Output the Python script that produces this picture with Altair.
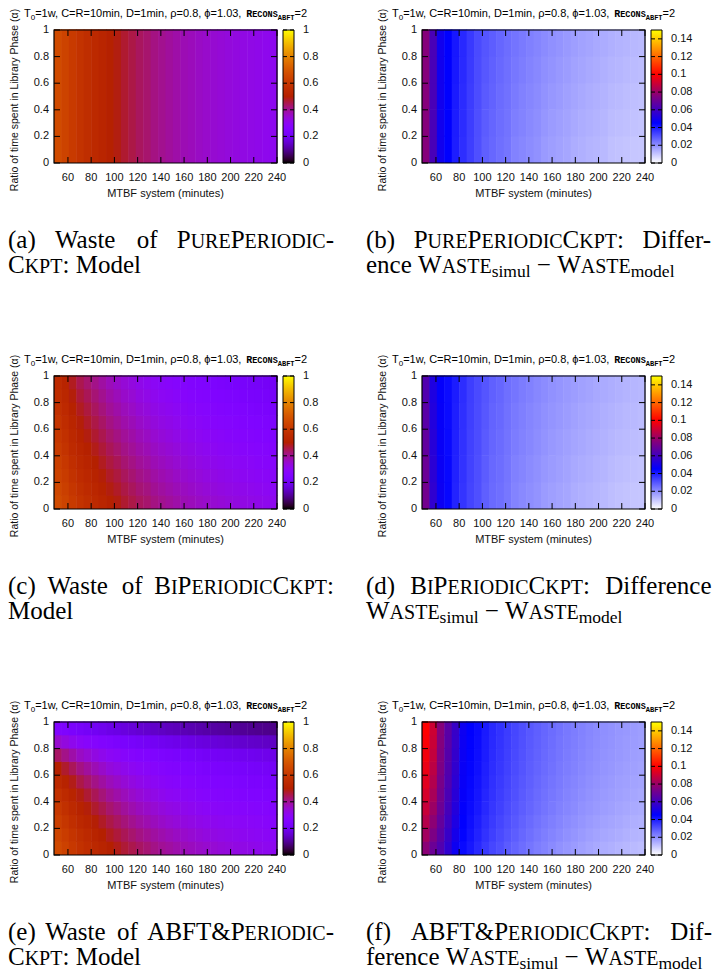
import math
import altair as alt
import pandas as pd

# ---------------------------------------------------------------- data
mtbf_edges = [48.0, 54.4, 60.8, 67.2, 73.6, 80.0, 86.4, 92.8, 99.2, 105.6, 112.0,
              118.4, 124.8, 131.2, 137.6, 144.0, 150.4, 156.8, 163.2, 169.6, 176.0,
              182.4, 188.8, 195.2, 201.6, 208.0, 214.4, 220.8, 227.2, 233.6, 240.0]
alpha_edges_1 = [0.0, 1.0]
alpha_edges_5 = [0.0, 0.2, 0.4, 0.6, 0.8, 1.0]
alpha_edges_10 = [0.0, 0.1, 0.2, 0.3, 0.4, 0.5, 0.6, 0.7, 0.8, 0.9, 1.0]

mtbf_ticks = [60, 80, 100, 120, 140, 160, 180, 200, 220, 240]
alpha_ticks = [0, 0.2, 0.4, 0.6, 0.8, 1]
waste_ticks = [0, 0.2, 0.4, 0.6, 0.8, 1]
diff_ticks = [0, 0.02, 0.04, 0.06, 0.08, 0.1, 0.12, 0.14]

x_title = "MTBF system (minutes)"
y_title = "Ratio of time spent in Library Phase (α)"

# (a) PurePeriodicCkpt model waste, one value per MTBF column (same for every alpha)
pure_model = [0.665, 0.64, 0.61, 0.585, 0.565, 0.545, 0.525, 0.505, 0.49, 0.47,
              0.455, 0.44, 0.43, 0.415, 0.405, 0.395, 0.385, 0.375, 0.368, 0.36,
              0.353, 0.347, 0.34, 0.335, 0.33, 0.325, 0.32, 0.315, 0.31, 0.306]

# (b) PurePeriodicCkpt simul - model, per MTBF column, 5 alpha bins (bottom -> top)
pure_diff_cols = [
    [0.076, 0.076, 0.076, 0.076, 0.076], [0.062, 0.062, 0.062, 0.062, 0.062],
    [0.049, 0.049, 0.049, 0.049, 0.049], [0.045, 0.045, 0.045, 0.045, 0.045],
    [0.0398, 0.0401, 0.0404, 0.0407, 0.041], [0.0369, 0.0372, 0.0375, 0.0377, 0.038],
    [0.034, 0.0342, 0.0345, 0.0347, 0.035], [0.031, 0.0313, 0.0315, 0.0318, 0.032],
    [0.0282, 0.0287, 0.0291, 0.0296, 0.03], [0.0268, 0.0272, 0.0277, 0.0281, 0.0285],
    [0.0254, 0.0258, 0.0262, 0.0266, 0.027], [0.0243, 0.0247, 0.025, 0.0254, 0.0258],
    [0.0221, 0.0228, 0.0234, 0.024, 0.0246], [0.0212, 0.0218, 0.0223, 0.0229, 0.0235],
    [0.0203, 0.0208, 0.0214, 0.0219, 0.0225], [0.0194, 0.0199, 0.0204, 0.021, 0.0215],
    [0.0178, 0.0185, 0.0192, 0.0198, 0.0205], [0.0171, 0.0177, 0.0183, 0.019, 0.0196],
    [0.0164, 0.017, 0.0176, 0.0182, 0.0188], [0.0157, 0.0163, 0.0168, 0.0174, 0.018],
    [0.0144, 0.0151, 0.0158, 0.0165, 0.0172], [0.0139, 0.0145, 0.0152, 0.0158, 0.0165],
    [0.0133, 0.0139, 0.0145, 0.0152, 0.0158], [0.0128, 0.0134, 0.014, 0.0146, 0.0152],
    [0.0123, 0.0129, 0.0134, 0.014, 0.0146], [0.0112, 0.0119, 0.0126, 0.0133, 0.014],
    [0.0108, 0.0115, 0.0122, 0.0128, 0.0135], [0.0104, 0.0111, 0.0117, 0.0124, 0.013],
    [0.0101, 0.0107, 0.0113, 0.012, 0.0126], [0.0098, 0.0104, 0.011, 0.0116, 0.0122],
]

# (c) BiPeriodicCkpt model waste, per MTBF column, 10 alpha bins (bottom -> top)
bi_model_cols = [
    [0.665, 0.652, 0.639, 0.627, 0.614, 0.601, 0.588, 0.576, 0.563, 0.55],
    [0.64, 0.627, 0.613, 0.6, 0.587, 0.573, 0.56, 0.547, 0.533, 0.52],
    [0.61, 0.596, 0.581, 0.567, 0.552, 0.538, 0.523, 0.509, 0.494, 0.48],
    [0.585, 0.57, 0.555, 0.54, 0.525, 0.51, 0.495, 0.48, 0.465, 0.45],
    [0.565, 0.55, 0.535, 0.52, 0.505, 0.49, 0.475, 0.46, 0.445, 0.43],
    [0.545, 0.53, 0.515, 0.5, 0.485, 0.47, 0.455, 0.44, 0.425, 0.41],
    [0.525, 0.51, 0.495, 0.48, 0.465, 0.45, 0.435, 0.42, 0.405, 0.39],
    [0.505, 0.49, 0.475, 0.46, 0.445, 0.43, 0.415, 0.4, 0.385, 0.37],
    [0.49, 0.475, 0.46, 0.445, 0.43, 0.415, 0.4, 0.385, 0.37, 0.355],
    [0.47, 0.456, 0.441, 0.427, 0.412, 0.398, 0.383, 0.369, 0.354, 0.34],
    [0.455, 0.441, 0.427, 0.413, 0.399, 0.386, 0.372, 0.358, 0.344, 0.33],
    [0.44, 0.426, 0.412, 0.398, 0.384, 0.371, 0.357, 0.343, 0.329, 0.315],
    [0.43, 0.416, 0.402, 0.388, 0.374, 0.361, 0.347, 0.333, 0.319, 0.305],
    [0.415, 0.402, 0.388, 0.375, 0.362, 0.348, 0.335, 0.322, 0.308, 0.295],
    [0.405, 0.392, 0.378, 0.365, 0.352, 0.338, 0.325, 0.312, 0.298, 0.285],
    [0.395, 0.382, 0.369, 0.356, 0.343, 0.33, 0.317, 0.304, 0.291, 0.278],
    [0.385, 0.372, 0.359, 0.347, 0.334, 0.321, 0.308, 0.296, 0.283, 0.27],
    [0.375, 0.363, 0.35, 0.338, 0.325, 0.313, 0.3, 0.288, 0.275, 0.263],
    [0.368, 0.356, 0.343, 0.331, 0.318, 0.306, 0.293, 0.281, 0.268, 0.256],
    [0.36, 0.348, 0.336, 0.323, 0.311, 0.299, 0.287, 0.274, 0.262, 0.25],
    [0.353, 0.341, 0.329, 0.317, 0.305, 0.293, 0.281, 0.269, 0.257, 0.245],
    [0.347, 0.335, 0.323, 0.311, 0.299, 0.288, 0.276, 0.264, 0.252, 0.24],
    [0.34, 0.328, 0.317, 0.305, 0.293, 0.282, 0.27, 0.258, 0.247, 0.235],
    [0.335, 0.323, 0.312, 0.3, 0.288, 0.277, 0.265, 0.253, 0.242, 0.23],
    [0.33, 0.318, 0.307, 0.295, 0.284, 0.272, 0.261, 0.249, 0.238, 0.226],
    [0.325, 0.314, 0.302, 0.291, 0.279, 0.268, 0.256, 0.245, 0.233, 0.222],
    [0.32, 0.309, 0.297, 0.286, 0.275, 0.263, 0.252, 0.241, 0.229, 0.218],
    [0.315, 0.304, 0.293, 0.281, 0.27, 0.259, 0.248, 0.236, 0.225, 0.214],
    [0.31, 0.299, 0.288, 0.277, 0.266, 0.254, 0.243, 0.232, 0.221, 0.21],
    [0.306, 0.295, 0.284, 0.273, 0.262, 0.251, 0.24, 0.229, 0.218, 0.207],
]

# (d) BiPeriodicCkpt simul - model, per MTBF column, 5 alpha bins (bottom -> top)
bi_diff_cols = [
    [0.0717, 0.0698, 0.0678, 0.0659, 0.064], [0.0562, 0.0551, 0.0541, 0.053, 0.052],
    [0.0478, 0.0474, 0.0469, 0.0465, 0.046], [0.0439, 0.0437, 0.0435, 0.0432, 0.043],
    [0.0388, 0.0391, 0.0394, 0.0397, 0.04], [0.0359, 0.0362, 0.0364, 0.0367, 0.037],
    [0.033, 0.0333, 0.0335, 0.0338, 0.034], [0.031, 0.0313, 0.0315, 0.0318, 0.032],
    [0.0282, 0.0287, 0.0291, 0.0296, 0.03], [0.0263, 0.0267, 0.0272, 0.0276, 0.028],
    [0.0254, 0.0258, 0.0262, 0.0266, 0.027], [0.024, 0.0244, 0.0247, 0.0251, 0.0255],
    [0.0219, 0.0225, 0.0231, 0.0237, 0.0243], [0.0209, 0.0215, 0.022, 0.0226, 0.0232],
    [0.02, 0.0205, 0.0211, 0.0216, 0.0222], [0.0191, 0.0196, 0.0201, 0.0207, 0.0212],
    [0.0177, 0.0183, 0.019, 0.0196, 0.0203], [0.017, 0.0176, 0.0182, 0.0189, 0.0195],
    [0.0163, 0.0169, 0.0175, 0.0181, 0.0187], [0.0157, 0.0163, 0.0168, 0.0174, 0.018],
    [0.0145, 0.0152, 0.0159, 0.0166, 0.0173], [0.0139, 0.0146, 0.0153, 0.0159, 0.0166],
    [0.0134, 0.0141, 0.0147, 0.0154, 0.016], [0.0129, 0.0135, 0.0142, 0.0148, 0.0154],
    [0.0124, 0.013, 0.0136, 0.0142, 0.0148], [0.0114, 0.0121, 0.0129, 0.0136, 0.0143],
    [0.011, 0.0117, 0.0124, 0.0131, 0.0138], [0.0106, 0.0113, 0.012, 0.0126, 0.0133],
    [0.0103, 0.011, 0.0116, 0.0123, 0.0129], [0.01, 0.0106, 0.0113, 0.0119, 0.0125],
]

# (e) ABFT&PeriodicCkpt model waste, per alpha bin (bottom -> top), 30 MTBF columns each
abft_model_rows = [
    [0.66, 0.635, 0.605, 0.58, 0.56, 0.54, 0.52, 0.5, 0.485, 0.466, 0.451, 0.437, 0.426, 0.412, 0.401,
     0.392, 0.382, 0.372, 0.365, 0.357, 0.35, 0.344, 0.337, 0.332, 0.327, 0.322, 0.317, 0.312, 0.307, 0.303],
    [0.645, 0.618, 0.59, 0.565, 0.543, 0.522, 0.5, 0.48, 0.463, 0.445, 0.43, 0.415, 0.403, 0.392, 0.381,
     0.37, 0.361, 0.353, 0.345, 0.337, 0.33, 0.325, 0.319, 0.314, 0.309, 0.305, 0.301, 0.297, 0.293, 0.29],
    [0.625, 0.597, 0.568, 0.54, 0.518, 0.497, 0.476, 0.455, 0.438, 0.421, 0.405, 0.39, 0.378, 0.367, 0.356,
     0.345, 0.337, 0.33, 0.323, 0.316, 0.31, 0.306, 0.302, 0.298, 0.294, 0.29, 0.286, 0.282, 0.278, 0.275],
    [0.605, 0.575, 0.545, 0.515, 0.494, 0.472, 0.451, 0.43, 0.413, 0.396, 0.38, 0.365, 0.355, 0.345, 0.335,
     0.325, 0.318, 0.311, 0.304, 0.297, 0.29, 0.287, 0.284, 0.281, 0.278, 0.275, 0.272, 0.268, 0.265, 0.262],
    [0.58, 0.55, 0.52, 0.49, 0.467, 0.445, 0.422, 0.4, 0.384, 0.369, 0.354, 0.34, 0.33, 0.32, 0.31,
     0.3, 0.294, 0.288, 0.282, 0.276, 0.27, 0.267, 0.264, 0.261, 0.258, 0.255, 0.252, 0.25, 0.247, 0.245],
    [0.545, 0.515, 0.485, 0.455, 0.433, 0.412, 0.391, 0.37, 0.356, 0.342, 0.328, 0.315, 0.306, 0.297, 0.288,
     0.28, 0.275, 0.27, 0.265, 0.26, 0.255, 0.252, 0.249, 0.246, 0.243, 0.24, 0.237, 0.235, 0.232, 0.23],
    [0.5, 0.472, 0.443, 0.415, 0.395, 0.375, 0.355, 0.335, 0.323, 0.312, 0.301, 0.29, 0.282, 0.275, 0.267,
     0.26, 0.255, 0.251, 0.246, 0.242, 0.237, 0.234, 0.231, 0.228, 0.225, 0.222, 0.219, 0.216, 0.213, 0.21],
    [0.435, 0.41, 0.385, 0.36, 0.344, 0.327, 0.311, 0.295, 0.286, 0.277, 0.268, 0.26, 0.254, 0.247, 0.241,
     0.235, 0.23, 0.226, 0.221, 0.217, 0.212, 0.209, 0.206, 0.202, 0.199, 0.196, 0.193, 0.19, 0.188, 0.185],
    [0.35, 0.33, 0.31, 0.29, 0.279, 0.267, 0.256, 0.245, 0.237, 0.23, 0.222, 0.215, 0.209, 0.202, 0.196,
     0.19, 0.186, 0.181, 0.177, 0.172, 0.168, 0.164, 0.161, 0.157, 0.154, 0.15, 0.147, 0.145, 0.142, 0.14],
    [0.256, 0.244, 0.232, 0.22, 0.211, 0.201, 0.192, 0.183, 0.176, 0.169, 0.162, 0.155, 0.15, 0.145, 0.14,
     0.135, 0.131, 0.127, 0.123, 0.119, 0.115, 0.112, 0.109, 0.106, 0.103, 0.1, 0.098, 0.095, 0.093, 0.09],
]

# (f) ABFT&PeriodicCkpt simul - model, per MTBF column, 10 alpha bins (bottom -> top)
abft_diff_cols = [
    [0.077, 0.0816, 0.0855, 0.089, 0.0917, 0.094, 0.0961, 0.0977, 0.0991, 0.1],
    [0.07, 0.074, 0.0774, 0.0804, 0.0828, 0.0848, 0.0866, 0.088, 0.0892, 0.09],
    [0.064, 0.0664, 0.0684, 0.0702, 0.0717, 0.0729, 0.074, 0.0748, 0.0755, 0.076],
    [0.056, 0.058, 0.0597, 0.0612, 0.0624, 0.0634, 0.0643, 0.065, 0.0656, 0.066],
    [0.048, 0.05, 0.0517, 0.0532, 0.0544, 0.0554, 0.0563, 0.057, 0.0576, 0.058],
    [0.0435, 0.0444, 0.0452, 0.0458, 0.0464, 0.0468, 0.0472, 0.0476, 0.0478, 0.048],
    [0.041, 0.0418, 0.0425, 0.0431, 0.0436, 0.044, 0.0443, 0.0446, 0.0448, 0.045],
    [0.038, 0.039, 0.0399, 0.0407, 0.0413, 0.0418, 0.0423, 0.0427, 0.043, 0.0432],
    [0.035, 0.0361, 0.037, 0.0379, 0.0385, 0.0391, 0.0396, 0.04, 0.0403, 0.0405],
    [0.0327, 0.0338, 0.0347, 0.0355, 0.0361, 0.0366, 0.0371, 0.0375, 0.0378, 0.038],
    [0.031, 0.032, 0.0329, 0.0337, 0.0343, 0.0348, 0.0353, 0.0357, 0.036, 0.0362],
    [0.029, 0.0301, 0.031, 0.0318, 0.0325, 0.033, 0.0335, 0.0339, 0.0342, 0.0344],
    [0.0274, 0.0285, 0.0294, 0.0302, 0.0308, 0.0313, 0.0318, 0.0322, 0.0325, 0.0327],
    [0.0258, 0.0268, 0.0277, 0.0285, 0.0291, 0.0296, 0.0301, 0.0305, 0.0308, 0.031],
    [0.0244, 0.0254, 0.0263, 0.0271, 0.0277, 0.0282, 0.0286, 0.029, 0.0293, 0.0295],
    [0.023, 0.024, 0.0249, 0.0257, 0.0263, 0.0268, 0.0273, 0.0277, 0.028, 0.0282],
    [0.0218, 0.0228, 0.0237, 0.0245, 0.0251, 0.0256, 0.0261, 0.0265, 0.0268, 0.027],
    [0.0206, 0.0217, 0.0226, 0.0234, 0.024, 0.0245, 0.025, 0.0254, 0.0257, 0.0259],
    [0.0195, 0.0206, 0.0215, 0.0223, 0.0229, 0.0234, 0.0239, 0.0243, 0.0246, 0.0248],
    [0.0185, 0.0196, 0.0205, 0.0213, 0.0219, 0.0224, 0.0229, 0.0233, 0.0236, 0.0238],
    [0.0176, 0.0187, 0.0196, 0.0204, 0.021, 0.0215, 0.022, 0.0224, 0.0227, 0.0229],
    [0.0167, 0.0178, 0.0187, 0.0195, 0.0201, 0.0206, 0.0211, 0.0215, 0.0218, 0.022],
    [0.0159, 0.017, 0.0179, 0.0187, 0.0193, 0.0198, 0.0203, 0.0207, 0.021, 0.0212],
    [0.0152, 0.0163, 0.0172, 0.018, 0.0186, 0.0191, 0.0196, 0.02, 0.0203, 0.0205],
    [0.0145, 0.0156, 0.0165, 0.0173, 0.0179, 0.0184, 0.0189, 0.0193, 0.0196, 0.0198],
    [0.0139, 0.015, 0.0159, 0.0167, 0.0173, 0.0178, 0.0183, 0.0187, 0.019, 0.0192],
    [0.0133, 0.0144, 0.0153, 0.0161, 0.0167, 0.0172, 0.0177, 0.0181, 0.0184, 0.0186],
    [0.0127, 0.0138, 0.0147, 0.0155, 0.0162, 0.0167, 0.0172, 0.0176, 0.0179, 0.0181],
    [0.0122, 0.0133, 0.0142, 0.015, 0.0157, 0.0162, 0.0167, 0.0171, 0.0174, 0.0176],
    [0.0117, 0.0128, 0.0137, 0.0146, 0.0152, 0.0158, 0.0163, 0.0167, 0.017, 0.0172],
]

# ---------------------------------------------------------------- styles
W, H = 223, 133
CB_X0, CB_X1 = W + 6, W + 17
SANS, SERIF, MONO = "Liberation Sans", "Liberation Serif", "Liberation Mono"
INK = "#111111"
CAP_FS, SC_RATIO = 25.0, 0.8


def gnuplot_rgb(v):
    r, g, b = math.sqrt(v), v ** 3, max(0.0, math.sin(2 * math.pi * v))
    return "#{:02x}{:02x}{:02x}".format(*(int(round(255 * min(1.0, max(0.0, c)))) for c in (r, g, b)))


WASTE_STOPS = [i / 40 for i in range(41)]
WASTE_COLORS = [gnuplot_rgb(v) for v in WASTE_STOPS]
DIFF_STOPS = [0, 0.045, 0.075, 0.1, 0.15]
DIFF_COLORS = ["#ffffff", "#0000ff", "#800080", "#ff0000", "#ffff00"]

SANS_W = {" ": 278, ",": 278, ".": 278, "=": 584, "w": 722, "C": 722, "R": 722, "D": 722,
          "m": 833, "i": 222, "n": 556, "ρ": 577, "ϕ": 660, "T": 611}
for d in "0123456789":
    SANS_W[d] = 556
SERIF_W = {" ": 250, "(": 333, ")": 333, ":": 278, "-": 333, "&": 778, "−": 564,
           "a": 444, "b": 500, "c": 444, "d": 500, "e": 444, "f": 333, "i": 278, "l": 278,
           "m": 778, "n": 500, "o": 500, "r": 333, "s": 389, "t": 278, "u": 500,
           "A": 722, "B": 667, "C": 667, "D": 722, "E": 611, "F": 556, "I": 333, "K": 722,
           "M": 889, "O": 722, "P": 556, "R": 667, "S": 556, "T": 611, "U": 722, "W": 944}


def text_width(t, font, size):
    if font == "mono":
        return 0.6 * size * len(t)
    table = SANS_W if font == "sans" else SERIF_W
    return sum(table.get(ch, 500) for ch in t) * size / 1000.0


TITLE_SEGS = [("sans", "T", 11, 0), ("sans", "0", 8, 3),
              ("sans", "=1w, C=R=10min, D=1min, ρ=0.8, ϕ=1.03, ", 11, 0),
              ("mono", "R", 10, 0), ("mono", "ECONS", 8.5, 0), ("mono", "ABFT", 7, 3),
              ("sans", "=2", 11, 0)]


def title_frags(x0=-30, y0=-13):
    out, x = [], x0
    for font, t, size, dy in TITLE_SEGS:
        out.append(dict(t=t, x=x, y=y0 + dy, fs=size, font=font))
        x += text_width(t, font, size)
    return out


def n(t):
    return [(t, CAP_FS, 0)]


def sub(t):
    return [(t, CAP_FS * 0.7, 4)]


def sc(t):
    segs = []
    for ch in t:
        size = CAP_FS * SC_RATIO if ch.islower() else CAP_FS
        if segs and segs[-1][1] == size:
            segs[-1] = (segs[-1][0] + ch.upper(), size, 0)
        else:
            segs.append((ch.upper(), size, 0))
    return segs


def line_frags(words, x0, y, x1=None):
    widths = [sum(text_width(t, "serif", s) for t, s, _ in w) for w in words]
    if x1 is not None and len(words) > 1:
        gap = (x1 - x0 - sum(widths)) / (len(words) - 1)
    else:
        gap = SERIF_W[" "] * CAP_FS / 1000.0
    out, x = [], x0
    for w in words:
        for t, s, dy in w:
            out.append(dict(t=t, x=x, y=y + dy, fs=s, font="serif"))
            x += text_width(t, "serif", s)
        x += gap
    return out


def caption(line1, line2, left):
    x0, x1 = (-46, 280) if left else (-56, 290)
    return line_frags(line1, x0, 218, x1) + line_frags(line2, x0, 243)


WSIM = sc("Waste") + sub("simul")
WMOD = sc("Waste") + sub("model")
CAPTIONS = [
    caption([n("(a)"), n("Waste"), n("of"), sc("PurePeriodic-")], [sc("Ckpt") + n(":"), n("Model")], True),
    caption([n("(b)"), sc("PurePeriodicCkpt") + n(":"), n("Differ-")], [n("ence"), WSIM, n("−"), WMOD], False),
    caption([n("(c)"), n("Waste"), n("of"), sc("BiPeriodicCkpt") + n(":")], [n("Model")], True),
    caption([n("(d)"), sc("BiPeriodicCkpt") + n(":"), n("Difference")], [WSIM, n("−"), WMOD], False),
    caption([n("(e)"), n("Waste"), n("of"), sc("ABFT&Periodic-")], [sc("Ckpt") + n(":"), n("Model")], True),
    caption([n("(f)"), sc("ABFT&PeriodicCkpt") + n(":"), n("Dif-")], [n("ference"), WSIM, n("−"), WMOD], False),
]


def cells(cols, a_edges):
    rows = []
    for i, col in enumerate(cols):
        for k, v in enumerate(col):
            rows.append(dict(x0=mtbf_edges[i], x1=mtbf_edges[i + 1],
                             a0=a_edges[k], a1=a_edges[k + 1], v=v))
    return pd.DataFrame(rows)


def panel(df, kind, cap):
    xs = alt.Scale(domain=[48, 240], nice=False, zero=False)
    ys = alt.Scale(domain=[0, 1], nice=False, zero=False)
    if kind == "waste":
        stops, colors, vmax, cb_vals = WASTE_STOPS, WASTE_COLORS, 1.0, waste_ticks
    else:
        stops, colors, vmax, cb_vals = DIFF_STOPS, DIFF_COLORS, 0.15, diff_ticks
    cs = alt.Scale(domain=stops, range=colors, interpolate="rgb")

    # each cell is drawn a hair over its right/top neighbour, which is painted after it,
    # so that no anti-aliasing seams show between the cells
    heat = alt.Chart(df).transform_calculate(
        x1o="datum.x1 + 0.45", a1o="datum.a1 + 0.005"
    ).mark_rect(strokeWidth=0).encode(
        x=alt.X("x0:Q", scale=xs, axis=None), x2="x1o:Q",
        y=alt.Y("a0:Q", scale=ys, axis=None), y2="a1o:Q",
        color=alt.Color("v:Q", scale=cs, legend=None),
    )

    xt = pd.DataFrame({"t": mtbf_ticks})
    yt = pd.DataFrame({"t": alpha_ticks})
    one = pd.DataFrame({"k": [0]})
    rule = dict(color="black", strokeWidth=1)
    t_bottom = alt.Chart(xt).mark_rule(**rule).encode(
        x=alt.X("t:Q", scale=xs, axis=None), y=alt.value(H), y2=alt.value(H - 6))
    t_top = alt.Chart(xt).mark_rule(**rule).encode(
        x=alt.X("t:Q", scale=xs, axis=None), y=alt.value(0), y2=alt.value(6))
    t_left = alt.Chart(yt).mark_rule(**rule).encode(
        y=alt.Y("t:Q", scale=ys, axis=None), x=alt.value(0), x2=alt.value(6))
    t_right = alt.Chart(yt).mark_rule(**rule).encode(
        y=alt.Y("t:Q", scale=ys, axis=None), x=alt.value(W), x2=alt.value(W - 6))

    x_lab = alt.Chart(xt).mark_text(align="center", baseline="top", font=SANS, fontSize=11,
                                    color=INK).encode(
        x=alt.X("t:Q", scale=xs, axis=None), y=alt.value(H + 9),
        text=alt.Text("t:Q", format="~g"))
    y_lab = alt.Chart(yt).mark_text(align="right", baseline="middle", font=SANS, fontSize=11,
                                    color=INK).encode(
        y=alt.Y("t:Q", scale=ys, axis=None), x=alt.value(-5),
        text=alt.Text("t:Q", format="~g"))
    x_ttl = alt.Chart(one).mark_text(align="center", baseline="top", font=SANS, fontSize=11,
                                     color=INK, text=x_title).encode(
        x=alt.value(W / 2), y=alt.value(H + 25))
    y_ttl = alt.Chart(one).mark_text(align="center", baseline="middle", angle=270, font=SANS,
                                     fontSize=10.5, color=INK, text=y_title).encode(
        x=alt.value(-39), y=alt.value(70))

    frame = alt.Chart(one).mark_rect(fillOpacity=0, stroke="black", strokeWidth=1.2).encode(
        x=alt.XDatum(48, scale=xs, axis=None), x2=alt.X2Datum(240),
        y=alt.YDatum(0, scale=ys, axis=None), y2=alt.Y2Datum(1))

    grad = {"gradient": "linear", "x1": 0, "y1": 1, "x2": 0, "y2": 0,
            "stops": [{"offset": s / vmax, "color": c} for s, c in zip(stops, colors)]}
    cbar = alt.Chart(one).mark_rect(fill=grad, stroke="black", strokeWidth=1).encode(
        x=alt.value(CB_X0), x2=alt.value(CB_X1),
        y=alt.YDatum(0, scale=ys, axis=None), y2=alt.Y2Datum(1))

    cbase = alt.Chart(pd.DataFrame({"c": cb_vals})).transform_calculate(p=f"datum.c / {vmax}")
    dash_l = cbase.mark_rule(**rule).encode(
        y=alt.Y("p:Q", scale=ys, axis=None), x=alt.value(CB_X0), x2=alt.value(CB_X0 + 4))
    dash_r = cbase.mark_rule(**rule).encode(
        y=alt.Y("p:Q", scale=ys, axis=None), x=alt.value(CB_X1 - 4), x2=alt.value(CB_X1))
    cb_lab = cbase.mark_text(align="left", baseline="middle", font=SANS, fontSize=11,
                             color=INK).encode(
        y=alt.Y("p:Q", scale=ys, axis=None), x=alt.value(W + 26),
        text=alt.Text("c:Q", format="~g"))

    frags = pd.DataFrame(title_frags() + cap)
    texts = []
    for key, fam, weight in [("sans", SANS, "normal"), ("mono", MONO, "bold"),
                             ("serif", SERIF, "normal")]:
        sub_df = frags[frags["font"] == key].reset_index(drop=True)
        texts.append(alt.Chart(sub_df).mark_text(
            align="left", baseline="alphabetic", font=fam, fontWeight=weight, color="black"
        ).encode(
            x=alt.X("x:Q", scale=None, axis=None), y=alt.Y("y:Q", scale=None, axis=None),
            text="t:N", size=alt.Size("fs:Q", scale=None, legend=None)))

    return alt.layer(heat, t_bottom, t_top, t_left, t_right, frame, cbar,
                     dash_l, dash_r, cb_lab, x_lab, y_lab, x_ttl, y_ttl,
                     *texts).properties(width=W, height=H)


panels = [
    panel(cells([[v] for v in pure_model], alpha_edges_1), "waste", CAPTIONS[0]),
    panel(cells(pure_diff_cols, alpha_edges_5), "diff", CAPTIONS[1]),
    panel(cells(bi_model_cols, alpha_edges_10), "waste", CAPTIONS[2]),
    panel(cells(bi_diff_cols, alpha_edges_5), "diff", CAPTIONS[3]),
    panel(cells([list(c) for c in zip(*abft_model_rows)], alpha_edges_10), "waste", CAPTIONS[4]),
    panel(cells(abft_diff_cols, alpha_edges_10), "diff", CAPTIONS[5]),
]

chart = alt.concat(*panels, columns=2, spacing={"row": 213, "column": 145},
                   bounds="flush").resolve_scale(
    color="independent"
).properties(padding=0, background="white").configure_view(stroke=None)

chart.save("out.html", embed_options={"renderer": "svg", "actions": False})
